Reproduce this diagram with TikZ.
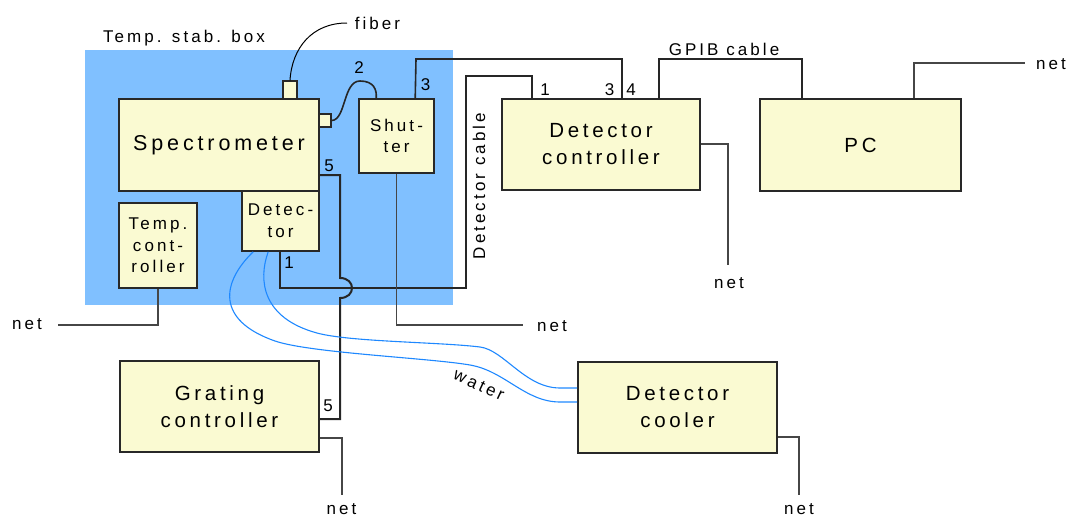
\documentclass[tikz,border=0pt]{standalone}
\usepackage{fontspec}
\setmainfont{Liberation Sans}[LetterSpace=18]
\newfontfamily\pinfont{Liberation Sans}
\usetikzlibrary{calc}

\definecolor{stabblue}{RGB}{128,192,255}
\definecolor{boxfill}{RGB}{250,250,210}
\definecolor{boxedge}{RGB}{40,40,40}
\definecolor{waterblue}{RGB}{30,136,255}
\definecolor{netgray}{RGB}{70,70,70}

\begin{document}
\begin{tikzpicture}[x=1pt,y=-1pt,
  unit/.style={draw=boxedge, fill=boxfill, line width=1.6pt, align=center, inner sep=0pt},
  bigtext/.style={font=\fontsize{20.5}{27}\selectfont},
  smalltext/.style={font=\fontsize{17}{21.7}\selectfont},
  lbl/.style={font=\fontsize{17}{20}\selectfont, inner sep=0pt, anchor=base},
  pinlbl/.style={font=\pinfont\fontsize{17}{20}\selectfont, inner sep=0pt, anchor=base},
  cable/.style={line width=1.6pt, draw=black!85},
  netline/.style={line width=1.1pt, draw=netgray},
  water/.style={line width=1.1pt, draw=waterblue},
]
\useasboundingbox (0,0) rectangle (1070,517);

% temperature-stabilised enclosure
\node[fill=stabblue, minimum width=368pt, minimum height=255pt, inner sep=0pt] (stab) at (269,177.5) {};
\node[lbl] (stablbl) at (184,42.7) {Temp. stab. box};

% units
\node[unit, font=\fontsize{21.5}{27}\selectfont, minimum width=200pt, minimum height=92pt] (spec) at (219,145) {Spectrometer};
\node[unit, line width=1.4pt, minimum width=14pt, minimum height=18pt] (fport) at (290,90) {};
\node[unit, line width=1.4pt, minimum width=12pt, minimum height=13pt] (sport) at (325,120.5) {};
\node[unit, smalltext, minimum width=75pt, minimum height=74pt] (shutter) at (396.5,136) {Shut-\\ter};
\node[unit, smalltext, minimum width=77pt, minimum height=60pt] (det) at (280.5,221) {Detec-\\tor};
\node[unit, smalltext, minimum width=78pt, minimum height=85pt] (tctl) at (158,245.5) {Temp.\\cont-\\roller};
\node[unit, bigtext, minimum width=198pt, minimum height=91pt] (dctl) at (601,144.5) {Detector\\controller};
\node[unit, bigtext, minimum width=201pt, minimum height=92pt] (pc) at (860.5,145) {PC};
\node[unit, bigtext, minimum width=199pt, minimum height=91pt] (grat) at (219.5,406.5) {Grating\\controller};
\node[unit, bigtext, minimum width=199pt, minimum height=91pt] (cool) at (677.5,407.5) {Detector\\cooler};

% fiber input
\coordinate (fiberend) at (347,23);
\node[lbl] (fiber) at (377.5,29) {fiber};
\draw[line width=1pt] (fport.north) .. controls (292,48) and (312,23) .. (fiberend);

% cable 2: spectrometer to shutter
\draw[cable] (sport.east) .. controls (346,120) and (343,81) .. (360,81)
  .. controls (374,81) and (377,90) .. ([xshift=18pt]shutter.north west);
\node[pinlbl] (p2) at (359,73) {2};

% cable 3: shutter to detector controller
\coordinate (c3top) at (416,59);
\coordinate (c3end) at (622,59);
\draw[cable] ([xshift=57pt]shutter.north west) -- (c3top) -- (c3end) -- (c3end |- dctl.north);
\node[pinlbl] (p3a) at (425.5,90.7) {3};
\node[pinlbl] (p3b) at (609.5,95) {3};
\node[pinlbl] (p4) at (631,95) {4};

% detector cable
\coordinate (dc1) at (280,288);
\coordinate (dc2) at (466,288);
\coordinate (dc3) at (466,76);
\coordinate (dc4) at (532,76);
\draw[cable] (dc1 |- det.south) -- (dc1) -- (dc2) -- (dc3) -- (dc4) -- (dc4 |- dctl.north);
\node[pinlbl] (p1a) at (289,268) {1};
\node[pinlbl] (p1b) at (545,95) {1};
\node[lbl, rotate=90] (dcable) at (485,186) {Detector cable};

% cable 5: spectrometer to grating controller, hopping over the detector cable
\coordinate (g1) at (340,175);
\coordinate (g2) at (340,278);
\coordinate (g3) at (340,298);
\coordinate (g4) at (340,419);
\draw[cable, line width=2pt] (g1 -| spec.east) -- (g1) -- (g2)
  .. controls (356,278) and (356,298) .. (g3) -- (g4) -- (g4 -| grat.east);
\node[pinlbl] (p5a) at (329,171) {5};
\node[pinlbl] (p5b) at (328,411.7) {5};

% GPIB cable
\coordinate (gp1) at (659,59);
\coordinate (gp2) at (802,59);
\draw[cable, line width=1.4pt] (gp1 |- dctl.north) -- (gp1) -- (gp2) -- (gp2 |- pc.north);
\node[lbl] (gpib) at (724,55) {GPIB cable};

% cooling water
\draw[water] ([xshift=12pt]det.south west) .. controls (222,282) and (215,320) .. (275,341)
  .. controls (310,353) and (430,358) .. (470,365)
  .. controls (505,371) and (525,402) .. (560,402) -- ([yshift=5.5pt]cool.west);
\draw[water] ([xshift=27pt]det.south west) .. controls (258,280) and (262,318) .. (317,333)
  .. controls (350,342) and (440,342) .. (480,347)
  .. controls (504,350) and (525,388) .. (560,388) -- ([yshift=19.5pt]cool.west);
\node[font=\fontsize{17}{20}\selectfont, inner sep=0pt, rotate=-25] (waterlbl) at (479,385) {water};

% mains connections
\coordinate (pn) at (914,63);
\coordinate (pnend) at (1025,63);
\draw[netline] (pn |- pc.north) -- (pn) -- (pnend);
\node[lbl] (pcnet) at (1051,69) {net};

\coordinate (dn) at (728,144);
\coordinate (dnend) at (728,265);
\draw[netline] (dn -| dctl.east) -- (dn) -- (dnend);
\node[lbl] (dctlnet) at (729,288) {net};

\coordinate (sn) at (397,325);
\coordinate (snend) at (523,325);
\draw[netline] (shutter.south) -- (shutter.south |- sn) -- (snend);
\node[lbl] (shutnet) at (552,331) {net};

\coordinate (tn) at (58,325);
\draw[netline] (tctl.south) -- (tctl.south |- tn) -- (tn);
\node[lbl] (tctlnet) at (27,329) {net};

\coordinate (gn) at (342,438);
\coordinate (gnend) at (342,495);
\draw[netline] (gn -| grat.east) -- (gn) -- (gnend);
\node[lbl] (gratnet) at (341.5,514.5) {net};

\coordinate (cn) at (799,437);
\coordinate (cnend) at (799,495);
\draw[netline] (cn -| cool.east) -- (cn) -- (cnend);
\node[lbl] (coolnet) at (799,514.5) {net};
\end{tikzpicture}
\end{document}
